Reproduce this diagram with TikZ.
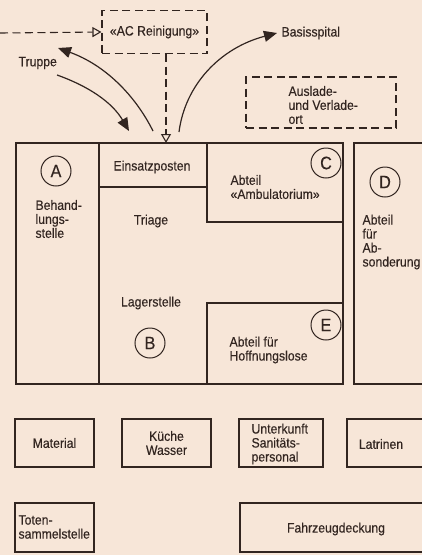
\documentclass[tikz,border=0pt]{standalone}
\usepackage{fontspec}
\setmainfont{Liberation Sans}[FakeStretch=0.9, FakeBold=0.3]
\usetikzlibrary{arrows.meta}
\definecolor{paper}{RGB}{247,230,216}
\definecolor{ink}{RGB}{50,37,32}
\begin{document}
\begin{tikzpicture}[x=1pt,y=-1pt,
  line width=1.1pt, draw=ink, text=ink,
  font=\fontsize{13.6}{14}\selectfont,
  box/.style={draw=ink, line width=1.1pt, inner sep=0pt},
  dbox/.style={draw=ink, line width=1.1pt, dash pattern=on 8pt off 4.5pt, inner sep=0pt},
  dline/.style={draw=ink, line width=1.1pt, dash pattern=on 8pt off 4.5pt},
  lbl/.style={text=ink, inner sep=0pt},
  ltr/.style={draw=ink, circle, minimum size=30pt, inner sep=0pt, line width=1pt,
              font=\fontsize{18}{18}\selectfont},
  opentip/.style={-{Triangle[open, length=9pt, width=10pt, line width=1.1pt]}},
  flow/.style={draw=ink, line width=1.2pt, -{Triangle[length=13pt, width=11pt]}}
]
\fill[paper] (0,0) rectangle (422,555);
\useasboundingbox (0,0) rectangle (422,555);
\clip (0,0) rectangle (422,555);

% ---- top area ----
\node[dbox, minimum width=105pt, minimum height=43pt] (ac) at (154.5,32) {«AC Reinigung»};
\node[dbox, minimum width=150pt, minimum height=51pt] (aus) at (321,102.5) {};
\node[lbl, align=left, anchor=west] (aust) at (288,105) {Auslade-\\und Verlade-\\ort};
\node[lbl, anchor=west] (truppe) at (18,63) {Truppe};
\node[lbl, anchor=west] (basis) at (281,33) {Basisspital};

\coordinate (lin) at (0,33);
\coordinate (entry) at (166,143);
\draw[dline, opentip] (lin) -- (ac.west);
\draw[dline, opentip] (ac.south -| entry) -- (entry);

\coordinate (t1s) at (153,131);
\coordinate (t1e) at (58,48);
\coordinate (t2s) at (57,75);
\coordinate (t2e) at (129,131);
\coordinate (t3s) at (179,132);
\coordinate (t3e) at (277,33);
\draw[flow] (t1s) .. controls (135,95) and (105,65) .. (t1e);
\draw[flow] (t2s) .. controls (88,86) and (112,102) .. (t2e);
\draw[flow] (t3s) .. controls (185,85) and (220,48) .. (t3e);

% ---- main block ----
\draw[box] (16,143) rectangle (343,384);
\draw[box] (99,143) -- (99,384);
\draw[box] (99,187) -- (207,187);
\draw[box] (207,143) -- (207,222) -- (343,222);
\draw[box] (207,384) -- (207,303) -- (343,303);
\draw[box] (354,143) rectangle (440,384);

\node[ltr] (A) at (56,171) {A};
\node[ltr] (B) at (150,343) {B};
\node[ltr] (C) at (326,163) {C};
\node[ltr] (D) at (385,182) {D};
\node[ltr] (E) at (326,325) {E};

\node[lbl, align=left, anchor=west] (beh) at (35,219) {Behand-\\lungs-\\stelle};
\node[lbl] (eins) at (152,167) {Einsatzposten};
\node[lbl] (tri) at (151,221) {Triage};
\node[lbl, align=left, anchor=west] (amb) at (230,187) {Abteil\\«Ambulatorium»};
\node[lbl, align=left, anchor=west] (abs) at (362,242) {Abteil\\für\\Ab-\\sonderung};
\node[lbl] (lag) at (151,303) {Lagerstelle};
\node[lbl, align=left, anchor=west] (hof) at (229,350) {Abteil für\\Hoffnungslose};

% ---- bottom boxes ----
\node[box, minimum width=79pt, minimum height=48pt] (mat) at (54.5,443) {Material};
\node[box, minimum width=89pt, minimum height=48pt, align=center] (kue) at (166.5,443) {Küche\\Wasser};
\node[box, minimum width=84pt, minimum height=48pt] (unt) at (281,443) {};
\node[lbl, align=left, anchor=west] (untt) at (251,444) {Unterkunft\\Sanitäts-\\personal};
\node[box, minimum width=93pt, minimum height=48pt] (lat) at (393.5,443) {};
\node[lbl] (latt) at (381,444) {Latrinen};
\node[box, minimum width=79pt, minimum height=49pt] (tot) at (54.5,527.5) {};
\node[lbl, align=left, anchor=west] (tott) at (18,527) {Toten-\\sammelstelle};
\node[box, minimum width=200pt, minimum height=49pt] (fahr) at (340,527.5) {};
\node[lbl] (fahrt) at (336,529) {Fahrzeugdeckung};
\end{tikzpicture}
\end{document}
